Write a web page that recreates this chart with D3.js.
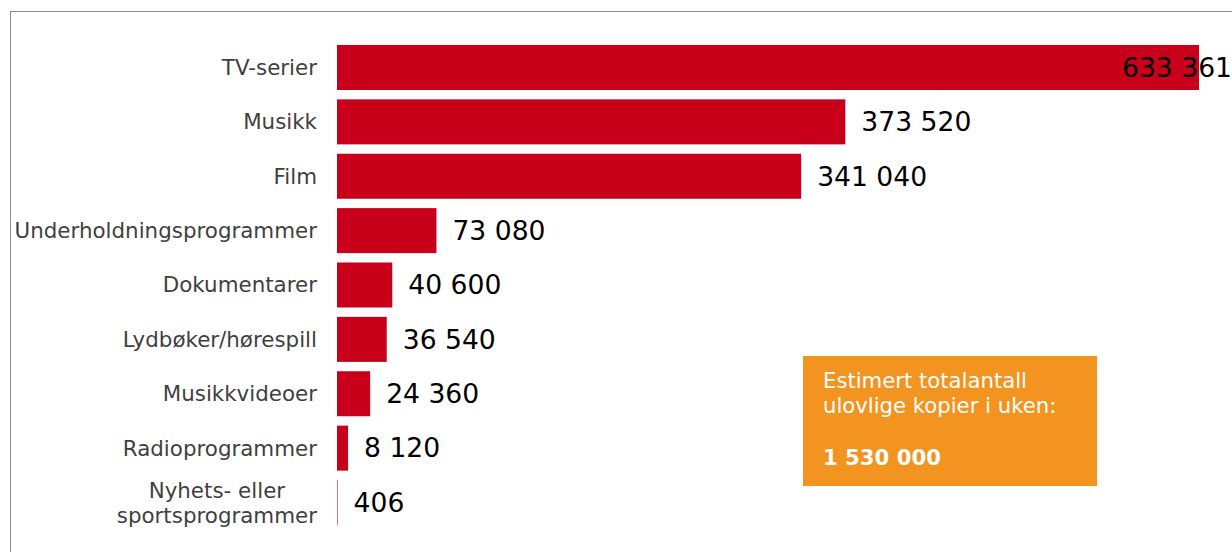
<!DOCTYPE html>
<html>
<head>
<meta charset="utf-8">
<script src="https://cdn.jsdelivr.net/npm/d3@7"></script>
<style>
  html, body { margin: 0; padding: 0; background: #fff; }
  svg { display: block; }
</style>
</head>
<body>
<svg id="chart" width="1232" height="552"></svg>
<script>
// Kategorier og estimert antall ulovlige kopier per uke
const categories = [
  "TV-serier",
  "Musikk",
  "Film",
  "Underholdningsprogrammer",
  "Dokumentarer",
  "Lydbøker/hørespill",
  "Musikkvideoer",
  "Radioprogrammer",
  "Nyhets- eller\nsportsprogrammer"
];
const values = [633361, 373520, 341040, 73080, 40600, 36540, 24360, 8120, 406];
const boxLines = ["Estimert totalantall", "ulovlige kopier i uken:"];
const boxTotal = 1530000;

const W = 1232, H = 552;
const svg = d3.select("#chart");
const fmt = v => d3.format(",")(v).replace(/,/g, " ");

// Ramme (topp og venstre kant synlig)
svg.append("rect")
  .attr("x", 10.5).attr("y", 11.5)
  .attr("width", 1400).attr("height", 700)
  .attr("fill", "none")
  .attr("stroke", "#8e8e8e")
  .attr("stroke-width", 1);

const x = d3.scaleLinear().domain([0, d3.max(values)]).range([337, 1199]);
const y = d3.scaleBand()
  .domain(categories)
  .range([40.3, 529.7])
  .paddingInner(0.1724)
  .paddingOuter(0.0862);

// Stolper
svg.append("g").selectAll("rect")
  .data(categories)
  .join("rect")
  .attr("x", x(0))
  .attr("y", d => y(d))
  .attr("width", (d, i) => x(values[i]) - x(0))
  .attr("height", y.bandwidth())
  .attr("fill", "#c8001a");

// Kategorietiketter
const catG = svg.append("g")
  .attr("font-family", "'DejaVu Sans', Verdana, sans-serif")
  .attr("font-size", 21.4)
  .attr("fill", "#3f3f3f");
categories.forEach(c => {
  const lines = c.split("\n");
  const cy = y(c) + y.bandwidth() / 2;
  const lh = 25;
  const t = catG.append("text");
  lines.forEach((ln, k) => {
    t.append("tspan")
      .attr("y", cy + (k - (lines.length - 1) / 2) * lh)
      .attr("dy", "0.35em")
      .text(ln);
  });
  if (lines.length === 1) {
    t.attr("text-anchor", "end").selectAll("tspan").attr("x", 317);
  } else {
    // Flere linjer: midtstilt blokk, høyrejustert mot aksen
    let maxW = 0;
    t.selectAll("tspan").each(function () {
      maxW = Math.max(maxW, this.getComputedTextLength());
    });
    t.attr("text-anchor", "middle").selectAll("tspan").attr("x", 317 - maxW / 2);
  }
});

// Verdietiketter
const valG = svg.append("g")
  .attr("font-family", "'DejaVu Sans', Verdana, sans-serif")
  .attr("font-size", 26.6)
  .attr("fill", "#000");
categories.forEach((c, i) => {
  const t = valG.append("text")
    .attr("y", y(c) + y.bandwidth() / 2)
    .attr("dy", "0.35em")
    .text(fmt(values[i]));
  const w = t.node().getComputedTextLength();
  let px = x(values[i]) + 16;
  if (px + w > W) px = W - w;
  t.attr("x", px);
});

// Oransje boks med totalantall
const box = svg.append("g");
box.append("rect")
  .attr("x", 803).attr("y", 356)
  .attr("width", 294).attr("height", 130)
  .attr("fill", "#f39320");
const bt = box.append("g")
  .attr("font-family", "'DejaVu Sans', Verdana, sans-serif")
  .attr("font-size", 21.2)
  .attr("fill", "#fff");
boxLines.forEach((ln, k) => {
  bt.append("text").attr("x", 823).attr("y", 388 + k * 25).text(ln);
});
bt.append("text")
  .attr("x", 823).attr("y", 465)
  .attr("font-weight", "bold")
  .text(fmt(boxTotal));
</script>
</body>
</html>
